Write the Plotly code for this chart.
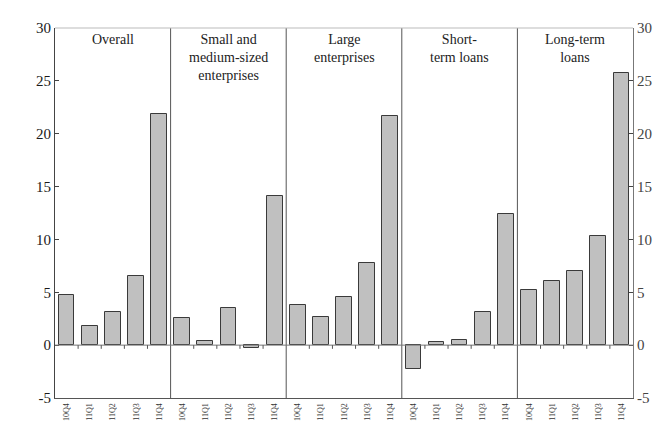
import plotly.graph_objects as go

panels = ["Overall", "Small and<br>medium-sized<br>enterprises", "Large<br>enterprises",
          "Short-<br>term loans", "Long-term<br>loans"]
quarters = ["10Q4", "11Q1", "11Q2", "11Q3", "11Q4"]
overall = [4.7, 1.8, 3.1, 6.5, 21.9]
sme = [2.6, 0.4, 3.5, -0.3, 14.1]
large = [3.8, 2.7, 4.6, 7.8, 21.7]
short_term = [-2.3, 0.3, 0.5, 3.1, 12.4]
long_term = [5.2, 6.1, 7.0, 10.3, 25.7]
y_ticks = [-5, 0, 5, 10, 15, 20, 25, 30]
y_tick_text = ["-5", "0", "5", "10", "15", "20", "25", "30"]

series = [overall, sme, large, short_term, long_term]
n = len(quarters)
xs, ys, labels = [], [], []
for p, vals in enumerate(series):
    for q, v in enumerate(vals):
        xs.append(p * n + q)
        ys.append(v)
        labels.append(quarters[q])

font = "Liberation Serif, Times New Roman, serif"
fig = go.Figure()
fig.add_trace(go.Bar(x=xs, y=ys, width=0.68,
                     marker=dict(color="#c0c0c0", line=dict(color="#3a3a3a", width=1)),
                     showlegend=False, hoverinfo="x+y"))
fig.add_trace(go.Scatter(x=[0], y=[0], yaxis="y2", mode="markers",
                         marker=dict(opacity=0), showlegend=False, hoverinfo="skip"))

shapes = []
total = len(xs)
for p in range(1, len(series)):
    shapes.append(dict(type="line", xref="x", yref="paper", x0=p * n - 0.5, x1=p * n - 0.5,
                       y0=0, y1=1, line=dict(color="#555555", width=1)))
shapes.append(dict(type="line", xref="paper", yref="y", x0=0, x1=1, y0=0, y1=0,
                   line=dict(color="#777777", width=1)))
for i in range(1, total):
    if i % n != 0:
        shapes.append(dict(type="line", xref="x", yref="y", x0=i - 0.5, x1=i - 0.5,
                           y0=0, y1=-0.35, line=dict(color="#555555", width=1)))
shapes.append(dict(type="line", xref="paper", yref="paper", x0=0, x1=1, y0=1, y1=1,
                   line=dict(color="#bbbbbb", width=1)))

annotations = []
for p, name in enumerate(panels):
    annotations.append(dict(x=p * n + (n - 1) / 2, xref="x", y=1, yref="paper",
                            yanchor="top", yshift=-2, text=name, showarrow=False,
                            font=dict(family=font, size=14, color="#222222")))

fig.update_layout(
    width=668, height=424,
    margin=dict(l=47, r=43, t=20, b=34),
    paper_bgcolor="white", plot_bgcolor="white",
    font=dict(family=font, size=14, color="#222222"),
    shapes=shapes, annotations=annotations,
    bargap=0,
    xaxis=dict(range=[-0.5, total - 0.5], tickmode="array", tickvals=xs, ticktext=labels,
               tickangle=-90, tickfont=dict(family=font, size=8, color="#333333"),
               showgrid=False, zeroline=False, showline=True, linecolor="#555555",
               linewidth=1, ticks="", automargin=False, ticklabelstandoff=1),
    yaxis=dict(range=[-5, 30], tickvals=y_ticks, ticktext=y_tick_text, showgrid=False,
               zeroline=False, showline=True, linecolor="#444444", linewidth=1,
               ticks="inside", ticklen=4, tickcolor="#444444", automargin=False,
               tickfont=dict(family=font, size=15, color="#1a1a1a")),
    yaxis2=dict(range=[-5, 30], tickvals=y_ticks, ticktext=y_tick_text, overlaying="y",
                side="right", showgrid=False, zeroline=False, showline=True,
                linecolor="#777777", linewidth=1, ticks="inside", ticklen=4,
                tickcolor="#444444", automargin=False,
                tickfont=dict(family=font, size=15, color="#444444")),
)

fig.write_html("out.html")
